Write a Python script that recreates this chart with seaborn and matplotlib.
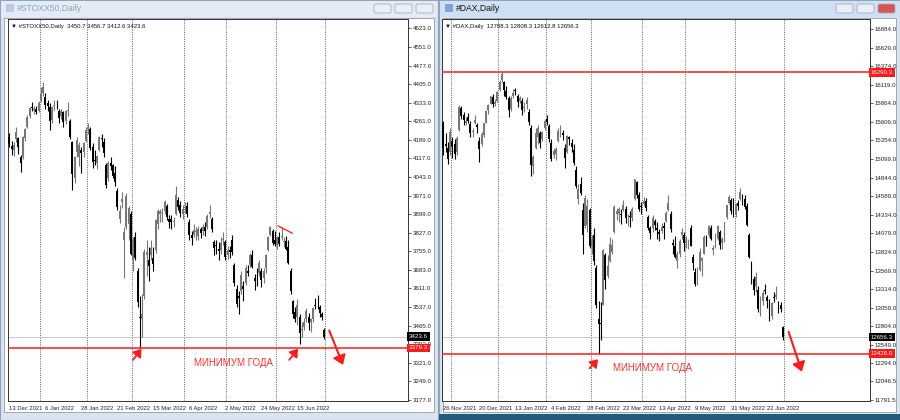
import numpy as np
import pandas as pd
import matplotlib
matplotlib.use("Agg")
import matplotlib.pyplot as plt
from matplotlib.patches import Rectangle, FancyBboxPatch
import matplotlib.transforms as mtransforms
import seaborn as sns

# --- DATA: Euro Stoxx 50 daily bars, 13 Dec 2021 .. 1 Jul 2022 ---
stoxx_open = [4200, 4165, 4150, 4190, 4195, 4120, 4120, 4195, 4240, 4282, 4315, 4305, 4310,
              4300, 4340, 4370, 4355, 4330, 4315, 4265, 4320, 4325, 4300, 4280, 4295, 4260,
              4300, 4260, 4180, 4040, 4140, 4120, 4150, 4140, 4185, 4230, 4230, 4160, 4110,
              4100, 4150, 4195, 4180, 4090, 4040, 4100, 4090, 4060, 3990, 3880, 3945, 3800,
              3850, 3860, 3900, 3720, 3810, 3680, 3500, 3490, 3580, 3740, 3720, 3740, 3730,
              3760, 3860, 3900, 3905, 3910, 3930, 3880, 3880, 3870, 3900, 3955, 3935, 3900,
              3925, 3930, 3870, 3820, 3820, 3830, 3815, 3840, 3835, 3850, 3850, 3900, 3880,
              3790, 3780, 3765, 3760, 3800, 3790, 3740, 3760, 3800, 3700, 3610, 3580, 3600,
              3620, 3630, 3680, 3700, 3740, 3650, 3660, 3670, 3680, 3650, 3690, 3760, 3820,
              3835, 3800, 3780, 3810, 3810, 3790, 3795, 3770, 3680, 3560, 3520, 3500, 3500,
              3450, 3460, 3490, 3500, 3480, 3490, 3545, 3550, 3540, 3510, 3450.7]
stoxx_high = [4215, 4185, 4178, 4240, 4200, 4130, 4205, 4235, 4285, 4315, 4335, 4318, 4320,
              4340, 4395, 4415, 4370, 4345, 4330, 4320, 4345, 4345, 4310, 4310, 4300, 4305,
              4335, 4270, 4185, 4125, 4200, 4180, 4160, 4180, 4240, 4255, 4240, 4175, 4150,
              4130, 4205, 4210, 4195, 4100, 4105, 4120, 4095, 4085, 4000, 3935, 3985, 3850,
              3980, 3930, 3910, 3810, 3830, 3690, 3580, 3590, 3765, 3800, 3770, 3800, 3770,
              3880, 3920, 3920, 3925, 3955, 3940, 3895, 3895, 3890, 4010, 3965, 3950, 3935,
              3945, 3945, 3880, 3835, 3860, 3850, 3855, 3850, 3860, 3870, 3900, 3935, 3890,
              3800, 3800, 3790, 3810, 3830, 3800, 3775, 3775, 3820, 3710, 3625, 3600, 3680,
              3640, 3700, 3700, 3750, 3760, 3665, 3690, 3720, 3690, 3690, 3745, 3815, 3855,
              3840, 3835, 3815, 3830, 3850, 3810, 3815, 3800, 3690, 3565, 3540, 3570, 3510,
              3480, 3495, 3535, 3515, 3495, 3540, 3575, 3585, 3545, 3520, 3456.7]
stoxx_low = [4160, 4130, 4125, 4180, 4135, 4065, 4115, 4185, 4235, 4275, 4300, 4290, 4290,
             4295, 4335, 4360, 4310, 4300, 4225, 4255, 4305, 4310, 4255, 4270, 4240, 4250,
             4280, 4190, 3995, 4020, 4120, 4085, 4060, 4120, 4180, 4210, 4150, 4080, 4090,
             4075, 4145, 4160, 4120, 4000, 4030, 4070, 4040, 4010, 3915, 3865, 3925, 3650,
             3840, 3800, 3740, 3680, 3720, 3540, 3379, 3420, 3570, 3660, 3640, 3720, 3680,
             3750, 3840, 3870, 3870, 3900, 3875, 3845, 3840, 3850, 3895, 3915, 3890, 3880,
             3905, 3890, 3800, 3780, 3810, 3800, 3800, 3805, 3820, 3815, 3840, 3885, 3830,
             3740, 3745, 3720, 3745, 3780, 3720, 3725, 3730, 3740, 3620, 3540, 3510, 3590,
             3560, 3625, 3660, 3695, 3690, 3605, 3620, 3660, 3615, 3630, 3670, 3755, 3815,
             3780, 3775, 3765, 3775, 3800, 3770, 3760, 3705, 3590, 3495, 3480, 3470, 3395,
             3420, 3450, 3480, 3450, 3440, 3480, 3530, 3530, 3500, 3488, 3412.6]
stoxx_close = [4171, 4152, 4170, 4217, 4161, 4097, 4200, 4230, 4277, 4311, 4311, 4306, 4298,
               4331, 4367, 4392, 4324, 4320, 4263, 4316, 4320, 4323, 4272, 4301, 4257, 4300,
               4300, 4200, 4054, 4123, 4188, 4167, 4136, 4175, 4228, 4237, 4158, 4101, 4107,
               4126, 4200, 4191, 4138, 4011, 4098, 4088, 4049, 4023, 3929, 3910, 3959, 3830,
               3970, 3924, 3743, 3802, 3729, 3557, 3494, 3510, 3754, 3751, 3697, 3766, 3706,
               3876, 3912, 3911, 3907, 3946, 3887, 3868, 3867, 3872, 3975, 3929, 3902, 3918,
               3926, 3900, 3818, 3807, 3837, 3832, 3841, 3827, 3848, 3834, 3894, 3906, 3840,
               3769, 3774, 3756, 3787, 3803, 3733, 3760, 3752, 3754, 3630, 3549, 3574, 3664,
               3607, 3689, 3672, 3742, 3695, 3641, 3657, 3709, 3643, 3680, 3740, 3810, 3850,
               3789, 3783, 3811, 3783, 3814, 3796, 3765, 3711, 3599, 3511, 3493, 3548, 3437,
               3450, 3480, 3523, 3477, 3490, 3533, 3543, 3549, 3514, 3498, 3423.6]
stoxx_ticks = [4623, 4551, 4477, 4405, 4333, 4261, 4189, 4117, 4043, 3971, 3899, 3827,
               3755, 3683, 3611, 3537, 3465, 3393, 3321, 3249, 3177]
stoxx_date_labels = ["13 Dec 2021", "6 Jan 2022", "28 Jan 2022", "21 Feb 2022", "15 Mar 2022",
                     "6 Apr 2022", "2 May 2022", "24 May 2022", "15 Jun 2022"]
stoxx_month_bars = [13, 34, 54, 77, 96, 118, 140]
stoxx_year_low = 3379.3

# --- DATA: DAX daily bars, 26 Nov 2021 .. 1 Jul 2022 ---
dax_open = [15600, 15300, 15250, 15200, 15350, 15300, 15200, 15500, 15800, 15700, 15600, 15680,
            15580, 15470, 15600, 15570, 15350, 15300, 15430, 15600, 15770, 15860, 15950, 15860,
            15900, 16040, 16180, 16150, 16030, 15930, 15780, 15960, 16040, 15960, 15900, 15900,
            15800, 15850, 15750, 15520, 15000, 15250, 15400, 15450, 15380, 15520, 15650, 15550,
            15320, 15150, 15170, 15350, 15480, 15460, 15250, 15200, 15400, 15320, 15220, 14950,
            14550, 14750, 14400, 14180, 14200, 14400, 13900, 14050, 13600, 12900, 12850, 13100,
            13780, 13500, 13700, 13820, 14100, 14350, 14350, 14350, 14400, 14420, 14270, 14320,
            14290, 14550, 14780, 14600, 14450, 14480, 14520, 14300, 14150, 14150, 14250, 14150,
            14100, 14110, 14180, 14250, 14400, 14350, 13950, 13900, 13700, 13800, 14050, 14050,
            13950, 13950, 14150, 13750, 13550, 13450, 13580, 13700, 13800, 14000, 14050, 14150,
            13850, 13950, 14000, 14100, 13950, 14000, 14300, 14500, 14530, 14420, 14350, 14500,
            14550, 14600, 14550, 14450, 14050, 13650, 13450, 13350, 13300, 13100, 13150, 13300,
            13200, 13150, 12950, 13200, 13200, 13100, 13100, 12788.3]
dax_high = [15620, 15450, 15330, 15520, 15400, 15370, 15420, 15840, 15830, 15740, 15680, 15730,
            15620, 15530, 15700, 15600, 15400, 15470, 15600, 15770, 15850, 15970, 15990, 15920,
            16030, 16190, 16290, 16170, 16100, 15960, 15960, 16060, 16080, 15990, 15960, 15940,
            15880, 15950, 15790, 15560, 15150, 15520, 15560, 15480, 15480, 15650, 15710, 15580,
            15380, 15250, 15260, 15520, 15570, 15500, 15300, 15430, 15420, 15370, 15300, 15000,
            14750, 14850, 14500, 14600, 14550, 14430, 14060, 14150, 13650, 13150, 13140, 13870,
            13810, 13780, 14030, 14000, 14470, 14430, 14440, 14420, 14530, 14450, 14350, 14390,
            14440, 14830, 14800, 14650, 14510, 14580, 14560, 14330, 14180, 14330, 14280, 14240,
            14140, 14220, 14240, 14390, 14600, 14390, 14000, 14040, 13830, 14000, 14150, 14100,
            14040, 14000, 14200, 13800, 13600, 13620, 13880, 13760, 14050, 14050, 14200, 14200,
            13920, 14080, 14200, 14120, 14030, 14240, 14470, 14600, 14560, 14570, 14490, 14530,
            14700, 14620, 14600, 14500, 14080, 13700, 13500, 13550, 13350, 13220, 13300, 13380,
            13230, 13180, 13140, 13280, 13350, 13150, 13130, 12808.3]
dax_low = [15150, 15200, 15030, 15150, 15110, 15100, 15150, 15490, 15650, 15570, 15560, 15590,
           15400, 15400, 15580, 15460, 15060, 15280, 15400, 15590, 15720, 15850, 15810, 15830,
           15880, 16030, 16150, 15960, 15920, 15680, 15760, 15940, 15980, 15820, 15870, 15710,
           15740, 15780, 15560, 14870, 14900, 15240, 15300, 15250, 15350, 15500, 15560, 15330,
           15070, 15120, 15080, 15330, 15400, 15360, 14980, 15180, 15290, 15200, 15020, 14700,
           14480, 14600, 13800, 14150, 14100, 13880, 13800, 13650, 13050, 12426, 12620, 13090,
           13320, 13470, 13680, 13800, 14090, 14260, 14240, 14210, 14380, 14220, 14180, 14160,
           14250, 14540, 14560, 14380, 14350, 14450, 14380, 14120, 14000, 14100, 14130, 14000,
           13980, 14080, 14000, 14230, 14390, 14100, 13800, 13740, 13600, 13760, 14000, 13830,
           13880, 13860, 13900, 13570, 13360, 13370, 13560, 13500, 13790, 13900, 14030, 13990,
           13780, 13880, 13990, 13870, 13860, 13960, 14280, 14480, 14340, 14310, 14300, 14400,
           14540, 14470, 14420, 14180, 13740, 13380, 13230, 13280, 13000, 12950, 13100, 13250,
           13050, 12880, 12900, 13140, 13180, 12980, 13000, 12612.8]
dax_close = [15257, 15280, 15100, 15473, 15263, 15170, 15387, 15814, 15688, 15639, 15623, 15621,
             15453, 15476, 15636, 15532, 15239, 15444, 15593, 15756, 15838, 15964, 15853, 15885,
             16021, 16152, 16271, 16052, 15948, 15768, 15942, 16011, 16031, 15883, 15934, 15772,
             15810, 15912, 15603, 15011, 15123, 15459, 15524, 15318, 15471, 15619, 15613, 15368,
             15100, 15206, 15242, 15482, 15490, 15425, 15113, 15412, 15370, 15267, 15042, 14731,
             14693, 14631, 14052, 14567, 14461, 13905, 14000, 13698, 13094, 12835, 12831, 13848,
             13442, 13628, 13929, 13918, 14441, 14388, 14413, 14326, 14474, 14283, 14274, 14306,
             14418, 14820, 14606, 14415, 14446, 14519, 14425, 14152, 14078, 14284, 14193, 14124,
             14076, 14163, 14154, 14362, 14502, 14142, 13924, 13756, 13793, 13979, 14098, 13940,
             13970, 13971, 13903, 13674, 13381, 13535, 13828, 13739, 14027, 13964, 14185, 14007,
             13882, 13982, 14175, 13919, 14008, 14231, 14462, 14575, 14388, 14340, 14485, 14460,
             14653, 14556, 14445, 14199, 13761, 13427, 13304, 13483, 13038, 13126, 13265, 13292,
             13145, 12912, 13118, 13186, 13231, 13003, 13040, 12656.3]
dax_ticks = [16884, 16629, 16374, 16119, 15864, 15609, 15354, 15099, 14844, 14589, 14334,
             14079, 13824, 13569, 13314, 13059, 12804, 12549, 12294, 12046.5, 11791.5]
dax_date_labels = ["26 Nov 2021", "20 Dec 2021", "13 Jan 2022", "4 Feb 2022", "28 Feb 2022",
                   "22 Mar 2022", "13 Apr 2022", "9 May 2022", "31 May 2022", "22 Jun 2022"]
dax_month_bars = [3, 24, 45, 65, 88, 107, 129, 151]
dax_year_high = 16290.3
dax_year_low = 12426.0

W, H = 900, 420
BULL, BEAR = "#777777", "#000000"
SMALL = "Liberation Sans"


def px_box(x0, y0, x1, y1):
    """Pixel box (top-left origin) -> figure fraction rect."""
    return [x0 / W, 1 - y1 / H, (x1 - x0) / W, (y1 - y0) / H]


def draw_window(bg, x0, x1, title, active):
    bar_col = "#cfe0f3" if active else "#e3ebf5"
    bg.add_patch(Rectangle((x0, 0), x1 - x0, H, fc="#d9e4f0", ec="#8ea4bc", lw=0.8))
    bg.add_patch(Rectangle((x0 + 1, 1), x1 - x0 - 2, 16, fc=bar_col, ec="none"))
    bg.add_patch(Rectangle((x0 + 4, 18), x1 - x0 - 8, 394, fc="white", ec="#9a9a9a", lw=0.6))
    bg.add_patch(Rectangle((x0 + 6, 4), 8, 8, fc="#7fa6d6" if active else "#b9cbe0", ec="none"))
    bg.text(x0 + 17, 8.5, title, fontsize=6.2, va="center", family=SMALL,
            color="#111111" if active else "#93a3b6")
    bx = x1 - 64
    for i in range(3):
        fc = "#d9534f" if (active and i == 2) else "#e9eff6"
        bg.add_patch(FancyBboxPatch((bx + i * 21, 4), 17, 9, boxstyle="round,pad=0,rounding_size=2",
                                    fc=fc, ec="#9fb0c4", lw=0.6))


def draw_candles(ax, o, h, l, c):
    df = pd.DataFrame({"open": o, "high": h, "low": l, "close": c})
    df["bar"] = np.arange(len(df))
    df["up"] = df["close"] >= df["open"]
    for up, grp in df.groupby("up"):
        col = BULL if up else BEAR
        ax.vlines(grp["bar"], grp["low"], grp["high"], color=col, lw=0.8, zorder=3)
        body = (grp["close"] - grp["open"]).abs()
        ax.bar(grp["bar"], body.clip(lower=body.max() * 0.01 + 1), bottom=grp[["open", "close"]].min(axis=1),
               width=0.8, color=col, lw=0, zorder=4)
    return df


def setup_axes(ax, n_right, ylim, ticks, labels, label_step, month_bars, fmt):
    ax.set_xlim(-0.6, n_right)
    ax.set_ylim(*ylim)
    ax.set_facecolor("white")
    for s in ax.spines.values():
        s.set_color("#333333")
        s.set_linewidth(0.7)
    ax.yaxis.tick_right()
    ax.set_yticks(ticks)
    ax.set_yticklabels([fmt % t for t in ticks], family=SMALL)
    ax.tick_params(axis="y", labelsize=4.4, length=2, width=0.5, pad=1.5, colors="#222222")
    ax.set_xticks(np.arange(len(labels)) * label_step)
    ax.set_xticklabels(labels, family=SMALL)
    for t in ax.get_xticklabels():
        t.set_horizontalalignment("left")
    ax.tick_params(axis="x", labelsize=4.2, length=2, width=0.5, pad=1.5, colors="#222222")
    ax.grid(False)
    for mb in month_bars:
        ax.axvline(mb + 0.5, color="#444444", lw=0.6, ls=(0, (1.2, 1.6)), zorder=1)
    ax.set_xlabel("")
    ax.set_ylabel("")


def price_tag(ax, value, text, fc):
    tr = mtransforms.blended_transform_factory(ax.transAxes, ax.transData)
    ax.text(1.002, value, text, transform=tr, fontsize=4.4, color="white", va="center", ha="left",
            family=SMALL, bbox=dict(boxstyle="square,pad=0.3", fc=fc, ec="none"), zorder=10, clip_on=False)


def red_arrow(ax, tail, head, lw=1.6, hw=3.5):
    ax.annotate("", xy=head, xytext=tail,
                arrowprops=dict(arrowstyle=f"-|>,head_width={hw / 10},head_length={hw / 7}",
                                color="#ff1a1a", lw=lw, shrinkA=0, shrinkB=0), zorder=9)


sns.set_theme(style="white")
plt.rcParams["font.family"] = ["DejaVu Sans"]

fig = plt.figure(figsize=(W / 100, H / 100), dpi=100)
bg = fig.add_axes([0, 0, 1, 1], zorder=0)
bg.set_xlim(0, W)
bg.set_ylim(H, 0)
bg.axis("off")
bg.add_patch(Rectangle((0, 0), W, H, fc="#cdd8e4", ec="none"))
draw_window(bg, 0, 438, "#STOXX50,Daily", active=False)
draw_window(bg, 439, 900, "#DAX,Daily", active=True)
bg.add_patch(Rectangle((439, 414), 461, 6, fc="#245a7a", ec="none"))

# --- left: STOXX50 ---
ax1 = fig.add_axes(px_box(8, 19, 408, 401), zorder=2)
draw_candles(ax1, stoxx_open, stoxx_high, stoxx_low, stoxx_close)
setup_axes(ax1, 177.2, (3173, 4658), stoxx_ticks, stoxx_date_labels, 16, stoxx_month_bars, "%.1f")
ax1.axhline(stoxx_close[-1], color="#c8c8c8", lw=0.7, zorder=2)
ax1.axhline(stoxx_year_low, color="#ff1a1a", lw=1.1, zorder=5)
price_tag(ax1, stoxx_close[-1], "%.1f" % stoxx_close[-1], "black")
price_tag(ax1, stoxx_year_low, "%.1f" % stoxx_year_low, "#ff1a1a")
ax1.text(0.8, 4630, "\u25bc #STOXX50,Daily  %.1f %.1f %.1f %.1f" % (
    stoxx_open[-1], stoxx_high[-1], stoxx_low[-1], stoxx_close[-1]), fontsize=4.3, va="center",
    color="#111111", family=[SMALL, "DejaVu Sans"])
red_arrow(ax1, (55, 3333), (58.7, 3376), lw=1.3, hw=2.6)
red_arrow(ax1, (124.4, 3333), (128.3, 3376), lw=1.3, hw=2.6)
red_arrow(ax1, (142.2, 3447), (148.3, 3313), lw=1.5, hw=3.2)
ax1.plot([119.4, 125.8], [3854, 3825], color="#ff1a1a", lw=0.9, zorder=6)
ax1.text(82, 3321, "МИНИМУМ ГОДА", fontsize=7, color="#ff3333", va="center", family=SMALL)

# --- right: DAX ---
ax2 = fig.add_axes(px_box(442, 19, 870, 401), zorder=2)
draw_candles(ax2, dax_open, dax_high, dax_low, dax_close)
setup_axes(ax2, 189.7, (11778, 17021), dax_ticks, dax_date_labels, 16, dax_month_bars, "%.1f")
ax2.axhline(dax_close[-1], color="#c8c8c8", lw=0.7, zorder=2)
ax2.axhline(dax_year_high, color="#ff1a1a", lw=1.1, zorder=5)
ax2.axhline(dax_year_low, color="#ff1a1a", lw=1.1, zorder=5)
price_tag(ax2, dax_year_high, "%.1f" % dax_year_high, "#ff1a1a")
price_tag(ax2, dax_close[-1], "%.1f" % dax_close[-1], "black")
price_tag(ax2, dax_year_low, "%.1f" % dax_year_low, "#ff1a1a")
ax2.text(0.8, 16920, "\u25bc #DAX,Daily  %.1f %.1f %.1f %.1f" % (
    dax_open[-1], dax_high[-1], dax_low[-1], dax_close[-1]), fontsize=4.3, va="center",
    color="#111111", family=[SMALL, "DejaVu Sans"])
red_arrow(ax2, (65, 12226), (68.8, 12350), lw=1.3, hw=2.6)
red_arrow(ax2, (153.5, 12729), (159.4, 12180), lw=1.5, hw=3.2)
ax2.text(75.4, 12231, "МИНИМУМ ГОДА", fontsize=7, color="#ff3333", va="center", family=SMALL)

fig.savefig("out.png", dpi=100)
